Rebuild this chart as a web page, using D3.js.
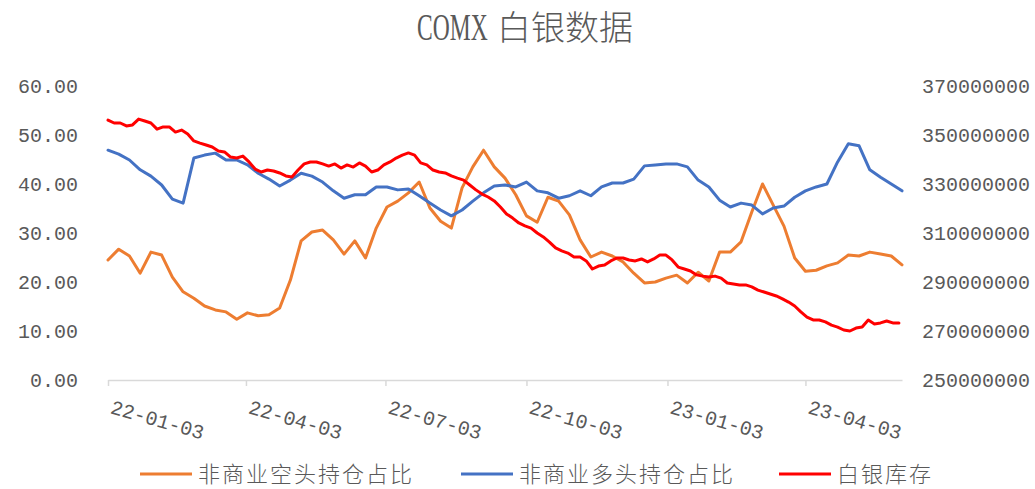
<!DOCTYPE html>
<html>
<head>
<meta charset="utf-8">
<script src="https://cdn.jsdelivr.net/npm/d3@7"></script>
<style>
  body { margin: 0; background: #fff; }
  svg text { fill: #595959; }
</style>
</head>
<body>
<script>
// weekly series, first week 2022-01-03
const shortRatio = [
  24.5, 26.7, 25.3, 21.8, 26.1, 25.5, 21.0, 18.0, 16.7, 15.1,
  14.3, 13.9, 12.4, 13.7, 13.1, 13.3, 14.7, 20.4, 28.4, 30.2,
  30.6, 28.6, 25.7, 28.4, 24.9, 31.0, 35.3, 36.5, 38.2, 40.4,
  35.1, 32.4, 31.0, 39.2, 43.5, 46.9, 43.5, 41.2, 37.8, 33.5,
  32.2, 37.3, 36.5, 33.7, 28.6, 25.1, 26.1, 25.3, 24.1, 21.8,
  19.8, 20.0, 20.8, 21.4, 19.8, 22.0, 20.2, 26.1, 26.1, 28.2,
  34.3, 40.0, 35.7, 31.4, 24.9, 22.2, 22.4, 23.3, 23.9, 25.5,
  25.3, 26.1, 25.7, 25.3, 23.5
]
const longRatio = [
  46.9, 46.1, 44.9, 42.9, 41.6, 39.8, 36.9, 36.1, 45.3, 45.9,
  46.3, 44.9, 44.9, 43.9, 42.2, 41.0, 39.6, 40.8, 42.2, 41.6,
  40.4, 38.6, 37.1, 37.8, 37.8, 39.4, 39.4, 38.8, 39.0, 37.6,
  36.1, 34.7, 33.5, 34.7, 36.5, 38.2, 39.6, 39.8, 39.4, 40.4,
  38.6, 38.2, 37.1, 37.6, 38.6, 37.6, 39.4, 40.2, 40.2, 41.0,
  43.7, 43.9, 44.1, 44.1, 43.5, 40.8, 39.4, 36.7, 35.3, 36.1,
  35.7, 33.9, 35.1, 35.5, 37.3, 38.6, 39.4, 40.0, 44.5, 48.2,
  47.8, 42.9, 41.4, 40.0, 38.6
]
// silver stock in millions, one reading every 4 days from 2022-01-03
const stockMillions = [
  356.1, 354.9, 354.9, 353.7, 354.1, 356.5, 355.7, 354.9, 352.4, 353.3,
  353.3, 351.2, 352.0, 350.4, 347.6, 346.7, 345.9, 345.1, 343.5, 343.1,
  341.0, 340.6, 341.4, 339.0, 336.1, 334.9, 335.7, 335.3, 334.5, 333.3,
  332.9, 335.7, 338.2, 339.0, 339.0, 338.2, 337.3, 338.2, 336.5, 337.8,
  336.9, 338.6, 337.3, 334.9, 335.7, 337.8, 339.0, 340.6, 341.8, 342.7,
  341.8, 338.6, 337.8, 335.7, 334.9, 334.5, 333.3, 332.4, 331.6, 329.6,
  327.6, 325.9, 324.7, 323.1, 320.6, 317.8, 316.1, 314.1, 312.9, 312.0,
  310.0, 308.4, 306.3, 303.9, 302.7, 301.8, 300.2, 300.2, 298.6, 295.3,
  296.5, 296.9, 298.6, 299.8, 299.8, 299.0, 298.6, 299.4, 298.2, 299.4,
  301.0, 301.0, 299.0, 296.1, 295.3, 294.5, 292.9, 292.4, 292.0, 292.4,
  291.6, 289.6, 289.2, 288.8, 288.8, 288.0, 286.7, 285.9, 285.1, 284.3,
  283.1, 281.8, 280.2, 277.8, 275.7, 274.5, 274.5, 273.7, 272.4, 271.6,
  270.4, 270.0, 271.2, 271.6, 274.5, 272.9, 273.3, 274.1, 273.3, 273.3
]
const leftTicks = [0, 10, 20, 30, 40, 50, 60]
const rightTicks = [250000000, 270000000, 290000000, 310000000, 330000000, 350000000, 370000000]
const dateTicks = ['2022-01-03', '2022-04-03', '2022-07-03', '2022-10-03', '2023-01-03', '2023-04-03']
const seriesNames = ['非商业空头持仓占比', '非商业多头持仓占比', '白银库存']
const colors = ['#ED7D31', '#4472C4', '#FF0000']

const parse = d3.timeParse('%Y-%m-%d')
const start = parse('2022-01-03')

const svg = d3.select('body').append('svg')
  .attr('width', 1035)
  .attr('height', 489)

const x = d3.scaleTime()
  .domain([start, parse('2023-06-05')])
  .range([108, 902])
const yLeft = d3.scaleLinear().domain([0, 60]).range([380, 86])
const yRight = d3.scaleLinear().domain([250000000, 370000000]).range([380, 86])

const weekly = (arr) => arr.map((v, i) => ({ date: d3.timeDay.offset(start, i * 7), v }))
const shortData = weekly(shortRatio)
const longData = weekly(longRatio)
const stockData = stockMillions.map((v, i) => ({ date: d3.timeDay.offset(start, i * 4), v: v * 1e6 }))

// title: narrow latin part, then the CJK part
svg.append('text')
  .attr('transform', 'translate(417,40) scale(0.62,1)')
  .style('font-family', '"Liberation Serif", serif')
  .style('font-size', '38px')
  .text('COMX')
svg.append('text')
  .attr('x', 497).attr('y', 40)
  .style('font-family', '"Noto Sans CJK SC", sans-serif')
  .style('font-size', '34px')
  .style('font-weight', 300)
  .text('白银数据')

const numFont = '"Liberation Mono", monospace'

// left axis
const gl = svg.append('g')
  .attr('transform', 'translate(78,0)')
  .call(d3.axisLeft(yLeft).tickValues(leftTicks).tickFormat(d3.format('.2f')).tickSize(0).tickPadding(0))
gl.select('.domain').remove()
gl.selectAll('text').style('font-family', numFont).style('font-size', '20px').attr('fill', '#595959')

// right axis
const gr = svg.append('g')
  .attr('transform', 'translate(922,0)')
  .call(d3.axisRight(yRight).tickValues(rightTicks).tickFormat(d3.format('d')).tickSize(0).tickPadding(0))
gr.select('.domain').remove()
gr.selectAll('text').style('font-family', numFont).style('font-size', '20px').attr('fill', '#595959')

// bottom axis
const gx = svg.append('g')
  .attr('transform', 'translate(0,380)')
  .call(d3.axisBottom(x).tickValues(dateTicks.map(parse)).tickFormat(d3.timeFormat('%y-%m-%d')).tickSize(6).tickSizeOuter(0))
gx.select('.domain').attr('stroke', '#d9d9d9').attr('stroke-width', 1.5)
gx.selectAll('.tick line').attr('stroke', '#d9d9d9').attr('stroke-width', 1.5)
gx.selectAll('.tick text')
  .attr('y', 0).attr('dy', 0)
  .attr('text-anchor', 'start')
  .attr('transform', 'translate(1,33) rotate(16)')
  .attr('fill', '#595959')
  .style('font-family', numFont)
  .style('font-size', '20px')

// lines
const line = (y) => d3.line().x(d => x(d.date)).y(d => y(d.v))
const series = [
  { data: shortData, y: yLeft },
  { data: longData, y: yLeft },
  { data: stockData, y: yRight }
]
svg.selectAll('path.series')
  .data(series)
  .enter()
  .append('path')
  .attr('class', 'series')
  .attr('fill', 'none')
  .attr('stroke', (d, i) => colors[i])
  .attr('stroke-width', 3)
  .attr('stroke-linejoin', 'round')
  .attr('stroke-linecap', 'round')
  .attr('d', d => line(d.y)(d.data))

// legend
const legendX = [140, 461, 779]
const legend = svg.selectAll('g.legend')
  .data(seriesNames)
  .enter()
  .append('g')
  .attr('class', 'legend')
  .attr('transform', (d, i) => `translate(${legendX[i]},474)`)
legend.append('line')
  .attr('x1', 0).attr('x2', 52)
  .attr('stroke', (d, i) => colors[i])
  .attr('stroke-width', 3)
legend.append('text')
  .attr('x', 58)
  .attr('dy', '0.36em')
  .style('font-family', '"Noto Sans CJK SC", sans-serif')
  .style('font-size', '22px')
  .style('letter-spacing', '2px')
  .style('font-weight', 300)
  .text(d => d)
</script>
</body>
</html>
